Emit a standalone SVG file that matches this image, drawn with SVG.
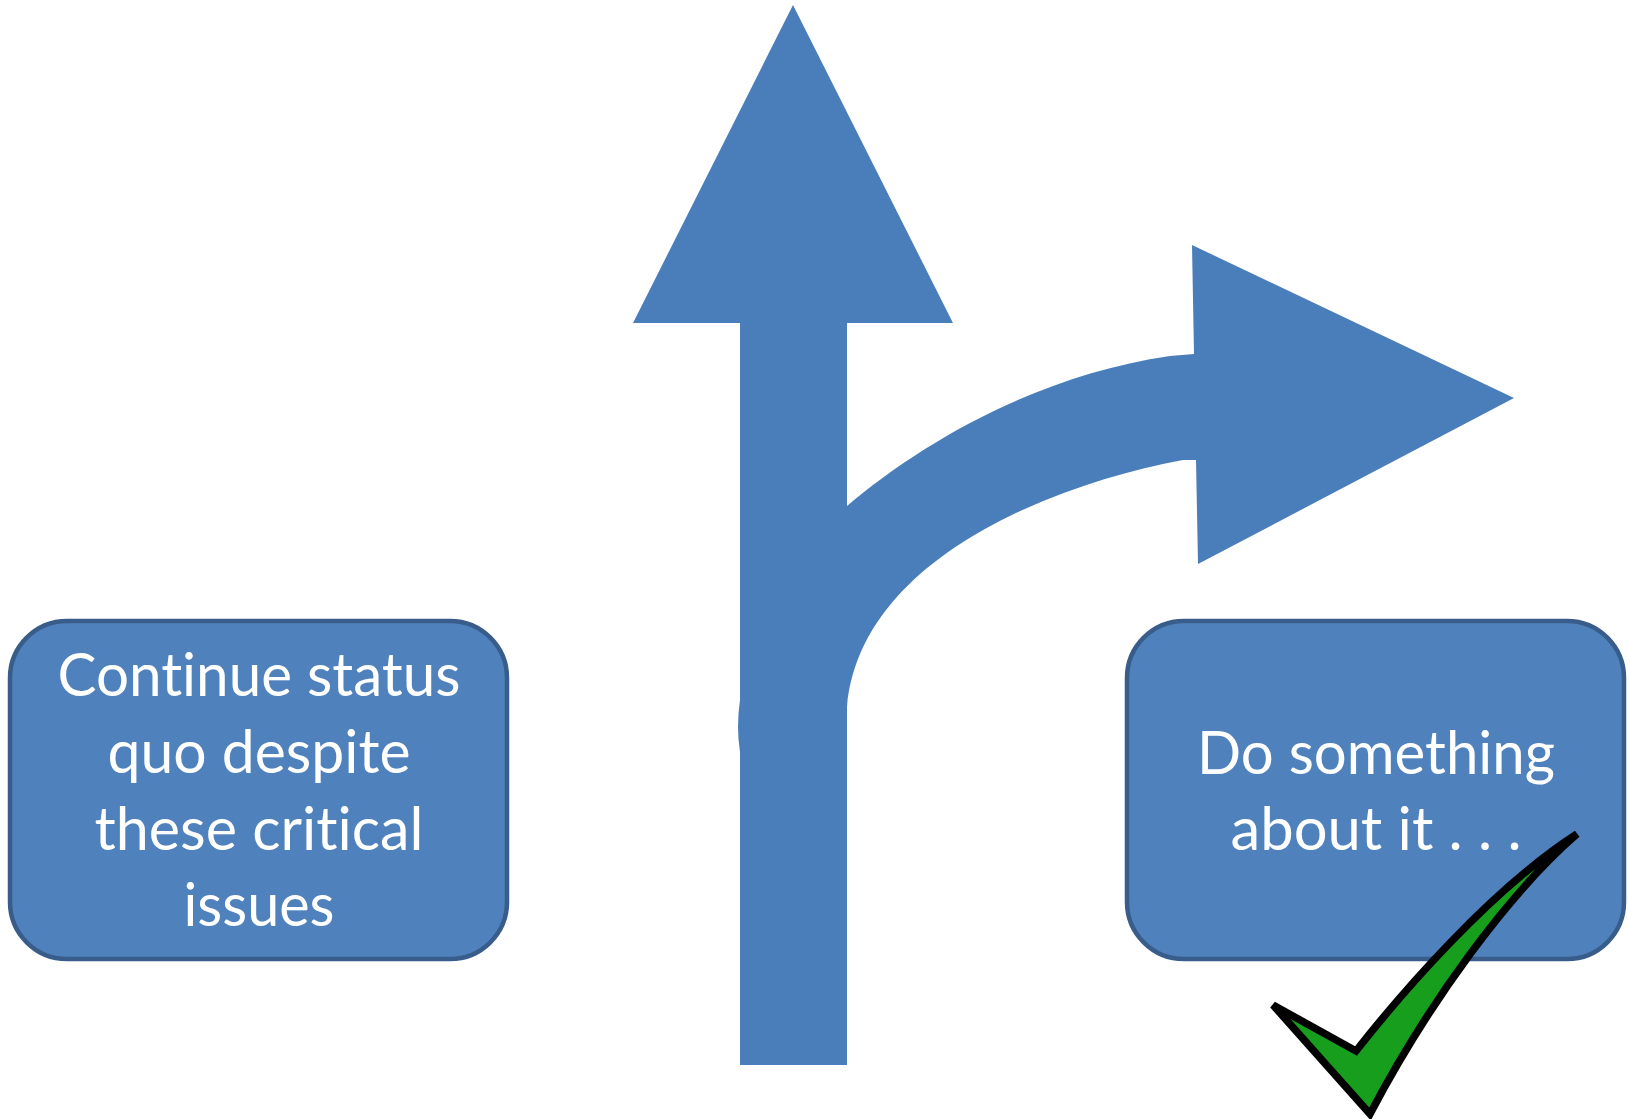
<svg xmlns="http://www.w3.org/2000/svg" width="1629" height="1119" viewBox="0 0 1629 1119">
<style>
.box{fill:#4f81bd;stroke:#385d8a;stroke-width:4.5}
.t{font-family:Lato,"Open Sans","Liberation Sans",sans-serif;font-size:60px;fill:#ffffff;text-anchor:middle;font-variant-ligatures:none;font-feature-settings:"liga" 0,"clig" 0}
.arrow{fill:#4a7ebb}
.check{fill:#179e1c;stroke:#000000;stroke-width:7.5;stroke-linejoin:miter}
</style>
<rect width="1629" height="1119" fill="#ffffff"/>
<g id="connectors">
<path class="arrow" d="M740,1065 L740,752 Q736,727 740,700 L740,323 L633,323 L793,5 L953,323 L847,323 L847,506 C925,440 1040,375 1170,356 L1194,354 L1192,245 L1514,398 L1198,564 L1196,460 L1183,460 C1050,485 860,560 847,707 L847,1065 Z"/>
</g>
<g id="node-status-quo">
<rect class="box" x="10" y="621" width="497" height="338" rx="57" ry="57"/>
<text class="t" x="259" y="696" textLength="403" lengthAdjust="spacingAndGlyphs">Continue status</text>
<text class="t" x="259" y="773" textLength="303" lengthAdjust="spacingAndGlyphs">quo despite</text>
<text class="t" x="259" y="850" textLength="329" lengthAdjust="spacingAndGlyphs">these critical</text>
<text class="t" x="259" y="926" textLength="151" lengthAdjust="spacingAndGlyphs">issues</text>
</g>
<g id="node-do-something">
<rect class="box" x="1127" y="621" width="497" height="338" rx="57" ry="57"/>
<text class="t" x="1376" y="774" textLength="358" lengthAdjust="spacingAndGlyphs">Do something</text>
<text class="t" x="1376" y="850" textLength="291" lengthAdjust="spacingAndGlyphs">about it . . .</text>
</g>
<g id="checkmark">
<path class="check" d="M1273,1005 L1356,1051 C1400,995 1490,890 1577,834 C1510,892 1430,1000 1370,1114 Z"/>
</g>
</svg>
